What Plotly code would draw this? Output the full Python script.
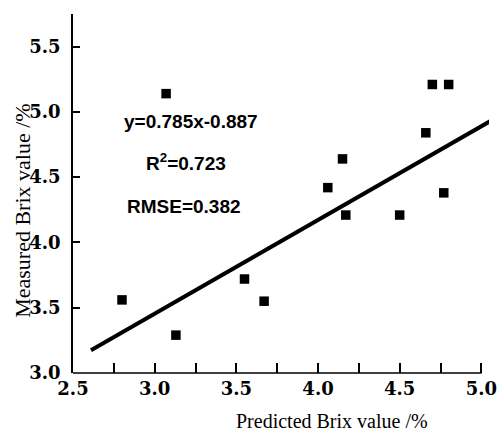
import plotly.graph_objects as go

# Data
predicted = [3.07, 2.80, 3.13, 3.55, 3.67, 4.17, 4.50, 4.70, 4.80, 4.66, 4.15, 4.06, 4.77]
measured = [5.14, 3.56, 3.29, 3.72, 3.55, 4.21, 4.21, 5.21, 5.21, 4.84, 4.64, 4.42, 4.38]

fit_slope = 0.718
fit_intercept = 1.30
fit_x = [2.61, 5.10]
fit_y = [fit_slope * v + fit_intercept for v in fit_x]

x_tickvals = [2.5, 3.0, 3.5, 4.0, 4.5, 5.0]
x_ticktext = ["2.5", "3.0", "3.5", "4.0", "4.5", "5.0"]
y_tickvals = [3.0, 3.5, 4.0, 4.5, 5.0, 5.5]
y_ticktext = ["3.0", "3.5", "4.0", "4.5", "5.0", "5.5"]

eq_texts = ["<b>y=0.785x-0.887</b>", "<b>R<sup>2</sup>=0.723</b>", "<b>RMSE=0.382</b>"]
x_title = "Predicted Brix value /%"
y_title = "Measured Brix value /%"

serif = "Liberation Serif"
sans = "Liberation Sans"

fig = go.Figure()
fig.add_trace(go.Scatter(
    x=fit_x, y=fit_y, mode="lines",
    line=dict(color="black", width=4), hoverinfo="skip"))
fig.add_trace(go.Scatter(
    x=predicted, y=measured, mode="markers",
    marker=dict(symbol="square", size=9.5, color="black", line=dict(width=0))))

# equation annotations
ann_pos = [(3.22, 4.925), (3.19, 4.62), (3.18, 4.275)]
for (ax, ay), t in zip(ann_pos, eq_texts):
    fig.add_annotation(x=ax, y=ay, xref="x", yref="y", text=t, showarrow=False,
                       font=dict(family=sans, size=19, color="black"),
                       xanchor="center", yanchor="middle")

# axis titles
fig.add_annotation(x=0.622, y=-0.135, xref="paper", yref="paper", text=x_title, showarrow=False,
                   font=dict(family=serif, size=20, color="black"), xanchor="center", yanchor="middle")
fig.add_annotation(x=-0.12, y=0.452, xref="paper", yref="paper", text=y_title, showarrow=False,
                   textangle=-90,
                   font=dict(family=serif, size=22, color="black"), xanchor="center", yanchor="middle")

x_end = 5.0 + 7.8 / 166.6
dom_frac = 416.5 / 424.0

tick_font = dict(family="DejaVu Serif", size=18, color="black", weight="bold")

fig.update_layout(
    width=497, height=434,
    margin=dict(l=73, r=0, t=14, b=61),
    plot_bgcolor="white", paper_bgcolor="white",
    showlegend=False,
    xaxis=dict(
        range=[2.5, x_end], showline=False, showgrid=False, zeroline=False,
        tickmode="array", tickvals=x_tickvals, ticktext=x_ticktext,
        ticks="inside", ticklen=10, tickwidth=1.5, tickcolor="black",
        minor=dict(dtick=0.25, tick0=2.5, ticks="inside", ticklen=10, tickwidth=1.5, tickcolor="black"),
        tickfont=tick_font,
        ticklabelstandoff=3, ticklabeloverflow="allow",
    ),
    yaxis=dict(
        range=[3.0, 5.75], showline=True, linecolor="black", linewidth=1.5,
        showgrid=False, zeroline=False,
        tickmode="array", tickvals=y_tickvals, ticktext=y_ticktext,
        ticks="inside", ticklen=7, tickwidth=1.5, tickcolor="black",
        tickfont=tick_font,
        ticklabelstandoff=7,
    ),
    shapes=[dict(type="line", xref="paper", yref="paper", x0=0, x1=dom_frac, y0=0, y1=0,
                 line=dict(color="black", width=1.5))],
)

fig.write_html("out.html", config={"displayModeBar": False},
               post_script="document.body.style.margin='0';document.body.style.overflow='hidden';")
